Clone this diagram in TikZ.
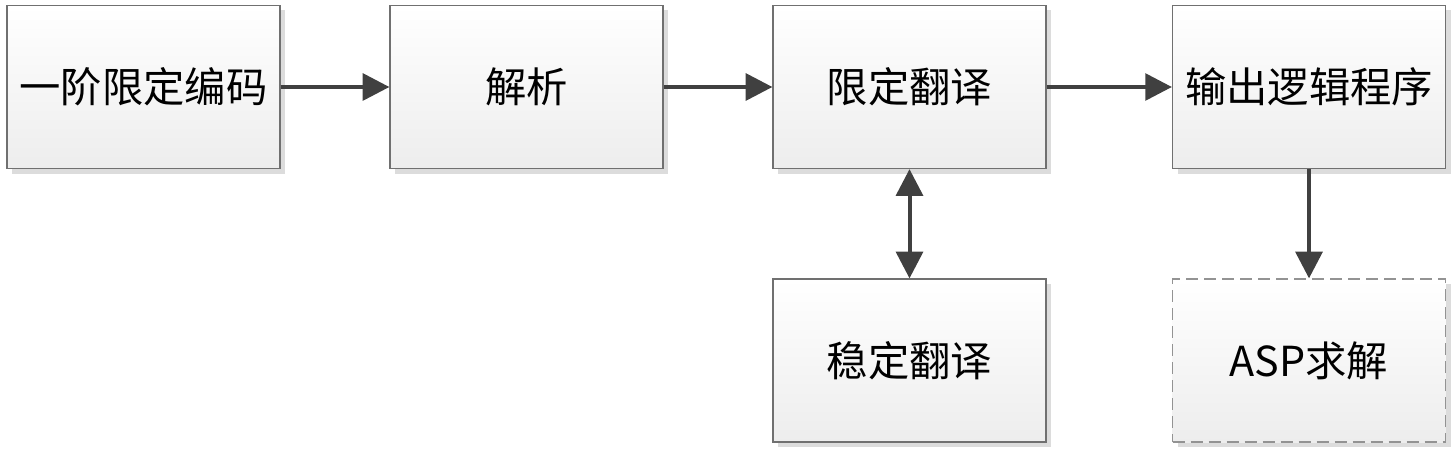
\documentclass[tikz,border=0pt]{standalone}
\usepackage{fontspec}
\newfontfamily\cjk{Noto Sans CJK SC}
\usetikzlibrary{arrows.meta,shadows}
\definecolor{boxborder}{HTML}{707070}
\definecolor{arrowcol}{HTML}{404040}
\definecolor{shadowcol}{HTML}{DCDCDC}
\tikzset{
  procbox/.style={draw=boxborder, line width=0.9pt, top color=white, bottom color=black!7,
    minimum width=204.75pt, minimum height=122.25pt, inner sep=0pt,
    font=\cjk\fontsize{31}{31}\selectfont, text=black,
    drop shadow={shadow xshift=3.75pt, shadow yshift=-3.75pt, fill=shadowcol, opacity=1}},
  dashbox/.style={procbox, draw=gray!85, dash pattern=on 9pt off 4.5pt},
  conn/.style={draw=arrowcol, line width=3pt, -{Triangle[length=20pt,width=20pt]}},
  biconn/.style={draw=arrowcol, line width=3pt, {Triangle[length=20pt,width=20pt]}-{Triangle[length=20pt,width=20pt]}}
}
\begin{document}
\begin{tikzpicture}[x=0.75pt,y=-0.75pt]
\useasboundingbox (0,0) rectangle (1455,449);
\node[procbox] (a) at (143.5,87) {一阶限定编码};
\node[procbox] (b) at (526.5,87) {解析};
\node[procbox] (c) at (909.5,87) {限定翻译};
\node[procbox] (d) at (1309,87) {输出逻辑程序};
\node[procbox] (e) at (909.5,360.5) {稳定翻译};
\node[dashbox] (f) at (1309,360.5) {ASP求解};
\draw[conn] (a) -- (b);
\draw[conn] (b) -- (c);
\draw[conn] (c) -- (d);
\draw[biconn] (c) -- (e);
\draw[conn] (d) -- (f);
\end{tikzpicture}
\end{document}
